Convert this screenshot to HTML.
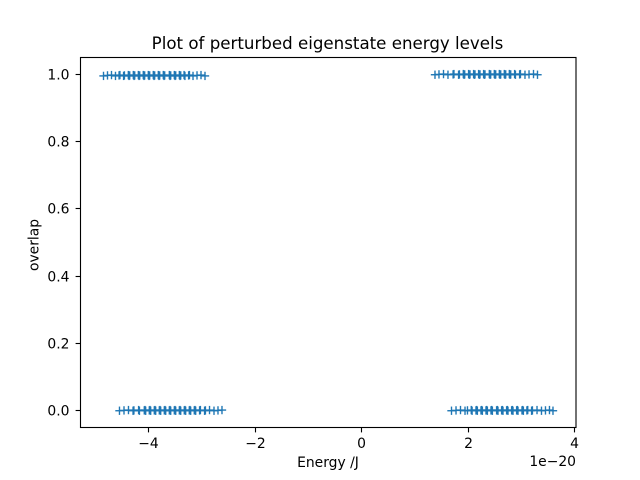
<!DOCTYPE html>
<html lang="en">
<head>
<meta charset="utf-8">
<title>Plot of perturbed eigenstate energy levels</title>
<style>
html,body{margin:0;padding:0;background:#fff;}
svg{display:block;}
text{font-family:"DejaVu Sans",sans-serif;fill:#000;}
</style>
</head>
<body>
<svg id="chart" xmlns="http://www.w3.org/2000/svg" width="640" height="480" viewBox="0 0 640 480">
<rect x="0" y="0" width="640" height="480" fill="#fff"/>
<rect x="80" y="57.6" width="496" height="369.6" fill="#fff"/>
<g id="marks"></g>
<g id="axes"></g>
<rect x="80.5" y="57.5" width="495.5" height="370" fill="none" stroke="#000" stroke-width="1.11"/>
<text x="327.5" y="49" font-size="16.67" text-anchor="middle">Plot of perturbed eigenstate energy levels</text>
<text x="328" y="467" font-size="13.89" text-anchor="middle">Energy /J</text>
<text transform="translate(38.5,245) rotate(-90)" font-size="13.89" text-anchor="middle">overlap</text>
<text x="576" y="466" font-size="13.89" text-anchor="end">1e−20</text>
</svg>
<script>
const xTicks = [-4, -2, 0, 2, 4];
const yTicks = [0, 0.2, 0.4, 0.6, 0.8, 1.0];
const xTickLabels = ['−4', '−2', '0', '2', '4'];
const yTickLabels = ['0.0', '0.2', '0.4', '0.6', '0.8', '1.0'];

const energiesUpperLeft = [-4.845,-4.770,-4.695,-4.620,-4.553,-4.537,-4.468,-4.452,
  -4.379,-4.366,-4.353,-4.285,-4.272,-4.259,-4.191,-4.178,-4.165,-4.098,-4.085,-4.072,
  -4.004,-3.991,-3.978,-3.910,-3.897,-3.884,-3.816,-3.803,-3.790,-3.722,-3.709,-3.696,
  -3.609,-3.596,-3.583,-3.515,-3.502,-3.489,-3.421,-3.408,-3.395,-3.332,-3.316,
  -3.247,-3.231,-3.164,-3.089,-3.014,-2.939];
const overlapLevelsUpperLeft = [0.9955, 0.997, 0.998];

const energiesUpperRight = [1.380,1.455,1.540,1.624,1.720,1.736,1.823,1.839,
  1.912,1.925,1.938,2.011,2.024,2.037,2.105,2.118,2.131,2.199,2.212,2.225,
  2.293,2.306,2.319,2.400,2.413,2.426,2.494,2.507,2.520,2.588,2.601,2.614,
  2.682,2.695,2.708,2.776,2.789,2.802,2.875,2.891,2.969,2.985,3.070,3.146,3.230,3.305];
const overlapLevelsUpperRight = [0.999, 1.0, 1.001];

const energiesLowerLeft = [-4.545,-4.460,-4.376,-4.290,-4.274,-4.186,-4.170,
  -4.079,-4.066,-4.053,-3.985,-3.972,-3.959,-3.891,-3.878,-3.865,-3.797,-3.784,-3.771,
  -3.703,-3.690,-3.677,-3.609,-3.596,-3.583,-3.515,-3.502,-3.489,-3.421,-3.408,-3.395,
  -3.328,-3.315,-3.302,-3.234,-3.221,-3.208,-3.140,-3.127,-3.114,-3.041,-3.025,
  -2.947,-2.931,-2.854,-2.770,-2.695,-2.620];
const overlapLevelsLowerLeft = [-0.001, 0.0, 0.001];

const energiesLowerRight = [1.690,1.775,1.859,1.944,1.990,2.061,2.077,
  2.150,2.163,2.176,2.244,2.257,2.270,2.338,2.351,2.364,2.432,2.445,2.458,
  2.537,2.550,2.563,2.631,2.644,2.657,2.725,2.738,2.751,2.819,2.832,2.845,
  2.913,2.926,2.939,3.014,3.027,3.040,3.106,3.122,3.194,3.210,3.296,3.380,3.455,3.530,3.596];
const overlapLevelsLowerRight = [-0.001, 0.0, 0.001];

const NS = 'http://www.w3.org/2000/svg';
const xScale = v => 361.5 + v * 53.25;
const yScale = v => 410.4 - v * 336;
const marksLayer = document.getElementById('marks');
const axesLayer = document.getElementById('axes');

function line(parent, x1, y1, x2, y2, color, width) {
  const l = document.createElementNS(NS, 'line');
  l.setAttribute('x1', x1);
  l.setAttribute('y1', y1);
  l.setAttribute('x2', x2);
  l.setAttribute('y2', y2);
  l.setAttribute('stroke', color);
  l.setAttribute('stroke-width', width);
  parent.appendChild(l);
  return l;
}

function drawGroup(energies, overlaps, groupName) {
  const g = document.createElementNS(NS, 'g');
  
  
  energies.forEach((e, i) => {
    const cx = xScale(e);
    const cy = yScale(overlaps[i % overlaps.length]);
    const h = line(g, cx - 4.17, cy, cx + 4.17, cy, '#1f77b4', 1.39);
    
    
    const v = line(g, cx, cy - 4.17, cx, cy + 4.17, '#1f77b4', 1.39);
    
    
  });
  marksLayer.appendChild(g);
}

drawGroup(energiesUpperLeft, overlapLevelsUpperLeft, 'markers-upper-left');
drawGroup(energiesUpperRight, overlapLevelsUpperRight, 'markers-upper-right');
drawGroup(energiesLowerLeft, overlapLevelsLowerLeft, 'markers-lower-left');
drawGroup(energiesLowerRight, overlapLevelsLowerRight, 'markers-lower-right');

xTicks.forEach((t, i) => {
  const px = Math.round(xScale(t) - 0.5) + 0.5;
  const tick = line(axesLayer, px, 427.5, px, 432.4, '#000', 1.11);
  
  
  const label = document.createElementNS(NS, 'text');
  
  
  label.setAttribute('x', px);
  label.setAttribute('y', 448);
  label.setAttribute('font-size', '13.89');
  label.setAttribute('text-anchor', 'middle');
  label.textContent = xTickLabels[i];
  axesLayer.appendChild(label);
});

yTicks.forEach((t, i) => {
  const py = Math.round(yScale(t) - 0.5) + 0.5;
  const tick = line(axesLayer, 75.6, py, 80.5, py, '#000', 1.11);
  
  
  const label = document.createElementNS(NS, 'text');
  
  
  label.setAttribute('x', 69.5);
  label.setAttribute('y', py + 5);
  label.setAttribute('font-size', '13.89');
  label.setAttribute('text-anchor', 'end');
  label.textContent = yTickLabels[i];
  axesLayer.appendChild(label);
});
</script>
</body>
</html>
